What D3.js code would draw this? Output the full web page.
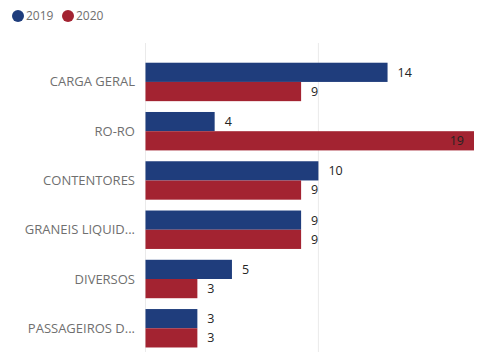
<!DOCTYPE html>
<html>
<head>
<meta charset="utf-8">
<script src="https://cdn.jsdelivr.net/npm/d3@7"></script>
<style>
  html, body { margin: 0; padding: 0; background: #fff; }
  svg { display: block; font-family: "Open Sans", "Segoe UI", sans-serif; }
</style>
</head>
<body>
<svg id="chart" width="484" height="352"></svg>
<script>
// Movimento por tipo de carga, 2019 vs 2020
const categories = ["CARGA GERAL", "RO-RO", "CONTENTORES", "GRANEIS LIQUID...", "DIVERSOS", "PASSAGEIROS D..."];
const seriesNames = ["2019", "2020"];
const values2019 = [14, 4, 10, 9, 5, 3];
const values2020 = [9, 19, 9, 9, 3, 3];
const gridTicks = [0, 10];
const colors = ["#1f3d7c", "#a32331"];

const svg = d3.select("#chart");

const x = d3.scaleLinear().domain([0, 19]).range([145.5, 474]);
const y = d3.scaleBand().domain(categories).range([57.3, 352.9])
  .paddingInner(0.22).paddingOuter(0.11);
const ySub = d3.scaleBand().domain(seriesNames).range([0, y.bandwidth()]);

// vertical gridlines
svg.append("g").selectAll("line").data(gridTicks).join("line")
  .attr("x1", d => x(d)).attr("x2", d => x(d))
  .attr("y1", 43).attr("y2", 352)
  .attr("stroke", "#eaeaea").attr("stroke-width", 1);

// category labels
svg.append("g").selectAll("text").data(categories).join("text")
  .attr("x", 135)
  .attr("y", d => y(d) + y.bandwidth() / 2)
  .attr("dy", "0.35em")
  .attr("text-anchor", "end")
  .attr("font-size", 13)
  .attr("fill", "#6f6f6f")
  .text(d => d);

const rows = [];
categories.forEach((c, i) => {
  rows.push({ cat: c, s: "2019", v: values2019[i], color: colors[0] });
  rows.push({ cat: c, s: "2020", v: values2020[i], color: colors[1] });
});

// bars
svg.append("g").selectAll("rect").data(rows).join("rect")
  .attr("x", x(0))
  .attr("y", d => y(d.cat) + ySub(d.s))
  .attr("width", d => x(d.v) - x(0))
  .attr("height", ySub.bandwidth())
  .attr("fill", d => d.color);

// value labels: outside the bar end, or inside when it would not fit
const inside = d => x(d.v) + 10 + 20 > 484;
svg.append("g").selectAll("text").data(rows).join("text")
  .attr("x", d => inside(d) ? x(d.v) - 10 : x(d.v) + 10)
  .attr("text-anchor", d => inside(d) ? "end" : "start")
  .attr("y", d => y(d.cat) + ySub(d.s) + ySub.bandwidth() / 2)
  .attr("dy", "0.35em")
  .attr("font-size", 12.5)
  .attr("fill", "#252423")
  .text(d => d.v);

// legend
const legend = svg.append("g");
const legendX = [18, 68];
seriesNames.forEach((s, i) => {
  legend.append("circle").attr("cx", legendX[i]).attr("cy", 16).attr("r", 6).attr("fill", colors[i]);
  legend.append("text").attr("x", legendX[i] + 8).attr("y", 16).attr("dy", "0.35em")
    .attr("font-size", 12).attr("fill", "#6f6f6f").text(s);
});
</script>
</body>
</html>
